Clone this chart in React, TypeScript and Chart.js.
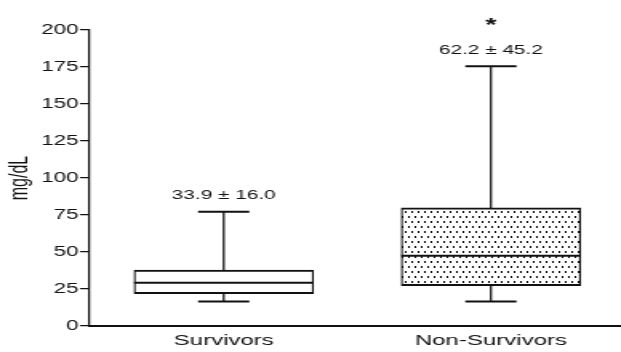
import React, { useEffect, useRef } from 'react';
import { Chart, registerables } from 'chart.js';

Chart.register(...registerables);

// ---- data ----
const categories = ['Survivors', 'Non-Survivors'];
const minValues = [16.5, 16.5];
const q1Values = [21.8, 27.2];
const medianValues = [29.2, 47.5];
const q3Values = [37.8, 79.8];
const maxValues = [77.2, 175.5];
const meanSdLabels = ['33.9 ± 16.0', '62.2 ± 45.2'];
const significanceMarks = ['', '*'];
const yTickValues = [0, 25, 50, 75, 100, 125, 150, 175, 200];

// ---- layout (the source picture is horizontally stretched) ----
const W = 621;
const H = 352;
const STRETCH = 1.6;
const IW = Math.round(W / STRETCH);
const BOX_W = 112;
const CAP_W = 32;
const FONT = '"Liberation Sans", Arial, sans-serif';
const INK = '#111';

function makeDotPattern(ctx: CanvasRenderingContext2D): CanvasPattern | string {
  const tile = document.createElement('canvas');
  tile.width = 4;
  tile.height = 10;
  const t = tile.getContext('2d');
  if (!t) return '#fff';
  t.fillStyle = '#ffffff';
  t.fillRect(0, 0, 4, 10);
  t.fillStyle = '#000000';
  t.fillRect(1, 1, 1, 2);
  t.fillRect(3, 6, 1, 2);
  return ctx.createPattern(tile, 'repeat') || '#fff';
}

const boxExtras = {
  id: 'boxExtras',
  afterDatasetsDraw(chart: any) {
    const { ctx } = chart;
    const x = chart.scales.x;
    const y = chart.scales.y;
    ctx.save();
    ctx.strokeStyle = INK;
    ctx.fillStyle = INK;
    categories.forEach((_, i) => {
      const cx = x.getPixelForValue(i);
      const yMin = y.getPixelForValue(minValues[i]);
      const yQ1 = y.getPixelForValue(q1Values[i]);
      const yMed = y.getPixelForValue(medianValues[i]);
      const yQ3 = y.getPixelForValue(q3Values[i]);
      const yMax = y.getPixelForValue(maxValues[i]);
      // median
      ctx.lineWidth = 2;
      ctx.beginPath();
      ctx.moveTo(cx - BOX_W / 2, yMed);
      ctx.lineTo(cx + BOX_W / 2, yMed);
      ctx.stroke();
      // whiskers
      ctx.lineWidth = 1.25;
      ctx.beginPath();
      ctx.moveTo(cx, yQ3);
      ctx.lineTo(cx, yMax);
      ctx.moveTo(cx, yQ1);
      ctx.lineTo(cx, yMin);
      ctx.stroke();
      // caps
      ctx.lineWidth = 2;
      ctx.beginPath();
      ctx.moveTo(cx - CAP_W / 2, yMax);
      ctx.lineTo(cx + CAP_W / 2, yMax);
      ctx.moveTo(cx - CAP_W / 2, yMin);
      ctx.lineTo(cx + CAP_W / 2, yMin);
      ctx.stroke();
      // labels
      ctx.textAlign = 'center';
      ctx.textBaseline = 'middle';
      ctx.font = `13px ${FONT}`;
      ctx.fillText(meanSdLabels[i], cx, yMax - 16);
      if (significanceMarks[i]) {
        ctx.font = `bold 18px ${FONT}`;
        ctx.fillText(significanceMarks[i], cx, yMax - 40);
      }
    });
    ctx.restore();
  },
};

export default function App() {
  const ref = useRef<HTMLCanvasElement | null>(null);

  useEffect(() => {
    const canvas = ref.current;
    if (!canvas) return;
    const ctx = canvas.getContext('2d') as CanvasRenderingContext2D;
    const pattern = makeDotPattern(ctx);

    const chart = new Chart(canvas, {
      type: 'bar',
      data: {
        datasets: [
          {
            data: categories.map((_, i) => ({ x: i, y: [q1Values[i], q3Values[i]] })) as any,
            backgroundColor: ['#ffffff', pattern as any],
            borderColor: INK,
            borderWidth: { top: 2, bottom: 2, left: 1.25, right: 1.25 } as any,
            borderSkipped: false,
            barThickness: BOX_W,
          },
        ],
      },
      options: {
        responsive: false,
        maintainAspectRatio: false,
        devicePixelRatio: 1,
        animation: false,
        layout: { padding: { top: 30, left: 0, right: 0, bottom: 0 } },
        plugins: {
          legend: { display: false },
          tooltip: { enabled: false },
        },
        scales: {
          x: {
            type: 'linear',
            offset: false,
            bounds: 'data',
            grace: 0,
            min: -0.502,
            max: 1.487,
            afterBuildTicks: (scale: any) => {
              scale.ticks = categories.map((_, i) => ({ value: i }));
            },
            afterFit: (scale: any) => {
              scale.height = 26;
            },
            grid: { display: false, drawTicks: false, offset: false },
            border: { display: true, color: INK, width: 2 },
            ticks: {
              padding: 6,
              color: INK,
              font: { family: FONT, size: 15 },
              callback: (v: any) => categories[Number(v)] ?? '',
              maxRotation: 0,
              autoSkip: false,
            },
          },
          y: {
            type: 'linear',
            min: 0,
            max: 200,
            afterBuildTicks: (scale: any) => {
              scale.ticks = yTickValues.map((v) => ({ value: v }));
            },
            afterFit: (scale: any) => {
              scale.width = 56;
            },
            grid: {
              display: true,
              drawOnChartArea: false,
              drawTicks: true,
              tickLength: 6,
              color: INK,
              lineWidth: 1.25,
            },
            border: { display: true, color: INK, width: 1.25 },
            ticks: {
              padding: 1,
              color: INK,
              font: { family: FONT, size: 14 },
            },
            title: {
              display: true,
              text: 'mg/dL',
              color: INK,
              font: { family: FONT, size: 16 },
              padding: { top: 3, bottom: 0 },
            },
          },
        },
      },
      plugins: [boxExtras],
    });

    return () => chart.destroy();
  }, []);

  return (
    <div style={{ position: 'absolute', left: 0, top: 0, width: W, height: H, background: '#fff' }}>
      <canvas
        ref={ref}
        width={IW}
        height={H}
        style={{ width: `${W}px`, height: `${H}px`, display: 'block' }}
      />
    </div>
  );
}
